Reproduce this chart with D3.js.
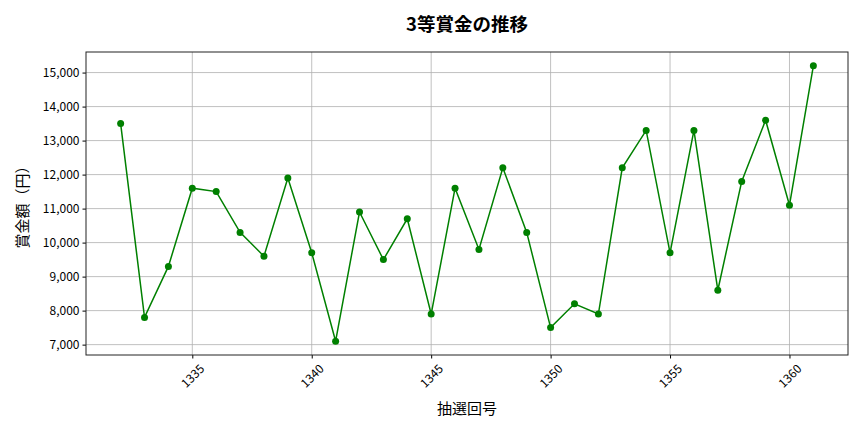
<!DOCTYPE html>
<html>
<head>
<meta charset="utf-8">
<script src="https://cdn.jsdelivr.net/npm/d3@7"></script>
<style>
  body { margin: 0; background: #fff; }
  text { font-family: "Noto Sans CJK JP", "Noto Sans", sans-serif; }
</style>
</head>
<body>
<svg width="864" height="432"></svg>
<script>
// draw numbers and prize values (3rd prize)
var rounds = [1332, 1333, 1334, 1335, 1336, 1337, 1338, 1339, 1340, 1341,
              1342, 1343, 1344, 1345, 1346, 1347, 1348, 1349, 1350, 1351,
              1352, 1353, 1354, 1355, 1356, 1357, 1358, 1359, 1360, 1361]
var prizes = [13500, 7800, 9300, 11600, 11500, 10300, 9600, 11900, 9700, 7100,
              10900, 9500, 10700, 7900, 11600, 9800, 12200, 10300, 7500, 8200,
              7900, 12200, 13300, 9700, 13300, 8600, 11800, 13600, 11100, 15200]
var xTicks = [1335, 1340, 1345, 1350, 1355, 1360]
var yTicks = [7000, 8000, 9000, 10000, 11000, 12000, 13000, 14000, 15000]

var title = "3等賞金の推移"
var xLabel = "抽選回号"
var yLabel = "賞金額（円）"

/* plot area */
var plotLeft = 86, plotRight = 848, plotTop = 52, plotBottom = 355

var svg = d3.select("svg")

// matplotlib style 5% margins
var xMin = d3.min(rounds), xMax = d3.max(rounds)
var xPad = (xMax - xMin) * 0.05
var yMin = d3.min(prizes), yMax = d3.max(prizes)
var yPad = (yMax - yMin) * 0.05

var x = d3.scaleLinear().domain([xMin - xPad, xMax + xPad]).range([plotLeft, plotRight])
var y = d3.scaleLinear().domain([yMin - yPad, yMax + yPad]).range([plotBottom, plotTop])

/* grid */
var grid = svg.append("g")
grid.selectAll(".gx")
    .data(xTicks)
    .enter()
    .append("line")
    .attr("x1", d => x(d)).attr("x2", d => x(d))
    .attr("y1", plotTop).attr("y2", plotBottom)
    .attr("stroke", "#b0b0b0").attr("stroke-width", 0.8)
grid.selectAll(".gy")
    .data(yTicks)
    .enter()
    .append("line")
    .attr("x1", plotLeft).attr("x2", plotRight)
    .attr("y1", d => y(d)).attr("y2", d => y(d))
    .attr("stroke", "#b0b0b0").attr("stroke-width", 0.8)

/* axes */
var xAxis = svg.append("g")
    .attr("transform", "translate(0," + plotBottom + ")")
    .call(d3.axisBottom(x).tickValues(xTicks).tickFormat(d3.format("d")).tickSize(3.5))
xAxis.select(".domain").remove()
xAxis.selectAll("text")
    .attr("font-size", 12)
    .attr("fill", "#000")
    .attr("text-anchor", "middle")
    .attr("x", 0)
    .attr("y", 0)
    .attr("dy", "0.35em")
    .attr("transform", "translate(0,21) rotate(-45)")
xAxis.selectAll("line").attr("stroke", "#000")

var yAxis = svg.append("g")
    .attr("transform", "translate(" + plotLeft + ",0)")
    .call(d3.axisLeft(y).tickValues(yTicks).tickFormat(d3.format(",")).tickSize(3.5).tickPadding(3))
yAxis.select(".domain").remove()
yAxis.selectAll("text").attr("font-size", 12).attr("fill", "#000")
yAxis.selectAll("line").attr("stroke", "#000")

svg.append("rect")
    .attr("x", plotLeft).attr("y", plotTop)
    .attr("width", plotRight - plotLeft).attr("height", plotBottom - plotTop)
    .attr("fill", "none")
    .attr("stroke", "#222")
    .attr("stroke-width", 1)

/* series */
var line = d3.line()
    .x((d, i) => x(rounds[i]))
    .y(d => y(d))

svg.append("path")
    .datum(prizes)
    .attr("d", line)
    .attr("fill", "none")
    .attr("stroke", "green")
    .attr("stroke-width", 1.5)

svg.selectAll(".pt")
    .data(prizes)
    .enter()
    .append("circle")
    .attr("cx", (d, i) => x(rounds[i]))
    .attr("cy", d => y(d))
    .attr("r", 3.5)
    .attr("fill", "green")

/* labels */
svg.append("text")
    .text(title)
    .attr("x", (plotLeft + plotRight) / 2)
    .attr("y", 31)
    .attr("text-anchor", "middle")
    .attr("font-size", 18.5)
    .attr("font-weight", "bold")

svg.append("text")
    .text(xLabel)
    .attr("x", (plotLeft + plotRight) / 2)
    .attr("y", 414)
    .attr("text-anchor", "middle")
    .attr("font-size", 15)

svg.append("text")
    .text(yLabel)
    .attr("transform", "translate(28," + (plotTop + plotBottom) / 2 + ") rotate(-90)")
    .attr("text-anchor", "middle")
    .attr("font-size", 15)
</script>
</body>
</html>
